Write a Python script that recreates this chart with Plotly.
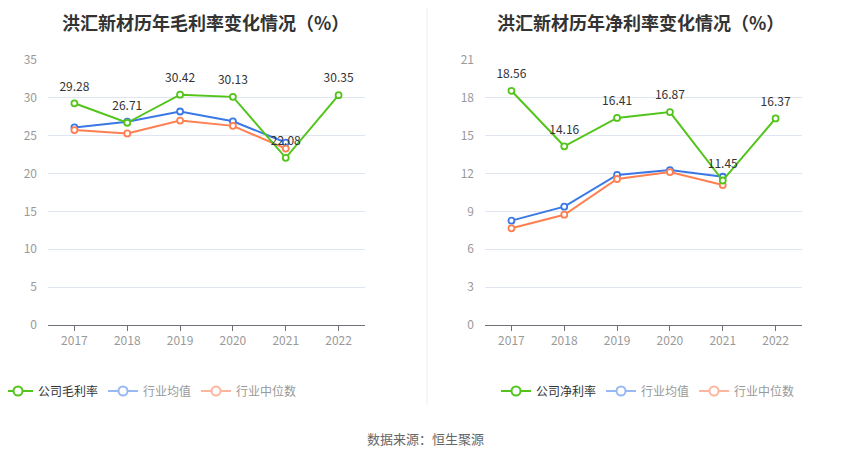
import plotly.graph_objects as go

years = ["2017", "2018", "2019", "2020", "2021", "2022"]

gross_company = [29.28, 26.71, 30.42, 30.13, 22.08, 30.35]
gross_ind_mean = [26.1, 26.85, 28.2, 26.9, 24.1, None]
gross_ind_median = [25.75, 25.3, 27.0, 26.3, 23.3, None]

net_company = [18.56, 14.16, 16.41, 16.87, 11.45, 16.37]
net_ind_mean = [8.27, 9.38, 11.89, 12.28, 11.75, None]
net_ind_median = [7.66, 8.74, 11.57, 12.12, 11.09, None]

title_left = "洪汇新材历年毛利率变化情况（%）"
title_right = "洪汇新材历年净利率变化情况（%）"
source_text = "数据来源：恒生聚源"

GREEN = "#52c41a"
BLUE = "#3a78e6"
ORANGE = "#ff7f50"
BLUE_L = "#98b8f4"
ORANGE_L = "#ffb69c"
FONT = "Noto Sans CJK SC, Noto Sans, sans-serif"

W, H = 850, 459
OFF = 8  # page body margin offset


def px(x):
    return (x - OFF) / W


def py(y):
    return 1 - (y - OFF) / H


fig = go.Figure()


def add_series(xa, ya, y, name, color):
    fig.add_trace(go.Scatter(
        x=years, y=y, xaxis=xa, yaxis=ya, name=name, mode="lines+markers",
        line=dict(color=color, width=2),
        marker=dict(symbol="circle", size=6, color="white", line=dict(color=color, width=1.8)),
        showlegend=False, cliponaxis=False,
    ))


def add_labels(xa, ya, y):
    fig.add_trace(go.Scatter(
        x=years, y=y, xaxis=xa, yaxis=ya, mode="markers+text",
        marker=dict(size=14, color="rgba(0,0,0,0)"),
        text=[f"{v:.2f}" for v in y], textposition="top center",
        textfont=dict(size=12, color="#333333", family=FONT),
        showlegend=False, cliponaxis=False, hoverinfo="skip",
    ))


def add_legend(name, color, textcolor, legend):
    fig.add_trace(go.Scatter(
        x=[None], y=[None], name=f'<span style="color:{textcolor}">{name}</span>',
        mode="lines+markers",
        line=dict(color=color, width=2),
        marker=dict(symbol="circle", size=9, color="white", line=dict(color=color, width=2)),
        legend=legend, showlegend=True,
    ))


add_series("x", "y", gross_ind_mean, "行业均值", BLUE)
add_series("x", "y", gross_ind_median, "行业中位数", ORANGE)
add_series("x", "y", gross_company, "公司毛利率", GREEN)
add_labels("x", "y", gross_company)
add_series("x2", "y2", net_ind_mean, "行业均值", BLUE)
add_series("x2", "y2", net_ind_median, "行业中位数", ORANGE)
add_series("x2", "y2", net_company, "公司净利率", GREEN)
add_labels("x2", "y2", net_company)

add_legend("公司毛利率", GREEN, "#333333", "legend")
add_legend("行业均值", BLUE_L, "#999999", "legend")
add_legend("行业中位数", ORANGE_L, "#999999", "legend")
add_legend("公司净利率", GREEN, "#333333", "legend2")
add_legend("行业均值", BLUE_L, "#999999", "legend2")
add_legend("行业中位数", ORANGE_L, "#999999", "legend2")

ydom = [py(325), py(60)]

xcommon = dict(type="category", range=[-0.5, 5.5], showline=True, linecolor="#6e7079", linewidth=1,
               ticks="outside", ticklen=5, tickcolor="#6e7079", showgrid=False,
               tickfont=dict(size=12, color="#999999", family=FONT), zeroline=False, automargin=False)
ycommon = dict(showline=False, showgrid=True, gridcolor="#e0e6f1", gridwidth=1, zeroline=False,
               tickfont=dict(size=12, color="#999999", family=FONT), ticks="", ticklabelstandoff=10,
               automargin=False)

fig.update_layout(
    width=W, height=H, margin=dict(l=0, r=0, t=0, b=0, autoexpand=False),
    paper_bgcolor="white", plot_bgcolor="white",
    font=dict(family=FONT),
    xaxis=dict(domain=[px(48), px(365)], anchor="y", **xcommon),
    yaxis=dict(domain=ydom, anchor="x", range=[0, 35], dtick=5, **ycommon),
    xaxis2=dict(domain=[px(485), px(802)], anchor="y2", **xcommon),
    yaxis2=dict(domain=ydom, anchor="x2", range=[0, 21], dtick=3, **ycommon),
    legend=dict(orientation="h", x=px(150), xanchor="center", y=py(391), yanchor="middle",
                font=dict(size=12, family=FONT), itemwidth=30, tracegroupgap=0, bgcolor="rgba(0,0,0,0)"),
    legend2=dict(orientation="h", x=px(648), xanchor="center", y=py(391), yanchor="middle",
                 font=dict(size=12, family=FONT), itemwidth=30, tracegroupgap=0, bgcolor="rgba(0,0,0,0)"),
    showlegend=True,
    annotations=[
        dict(text=f"<b>{title_left}</b>", x=px(205), y=py(8), xref="paper", yref="paper",
             showarrow=False, xanchor="center", yanchor="top", borderpad=0,
             font=dict(size=18, color="#333333", family=FONT)),
        dict(text=f"<b>{title_right}</b>", x=px(640), y=py(8), xref="paper", yref="paper",
             showarrow=False, xanchor="center", yanchor="top", borderpad=0,
             font=dict(size=18, color="#333333", family=FONT)),
        dict(text=source_text, x=px(425), y=py(438), xref="paper", yref="paper",
             showarrow=False, xanchor="center", yanchor="middle", font=dict(size=13, color="#666666", family=FONT)),
    ],
    shapes=[dict(type="line", xref="paper", yref="paper", x0=px(427), x1=px(427), y0=py(405), y1=1.02,
                 line=dict(color="#eeeeee", width=1))],
)

fig.write_html("out.html")
